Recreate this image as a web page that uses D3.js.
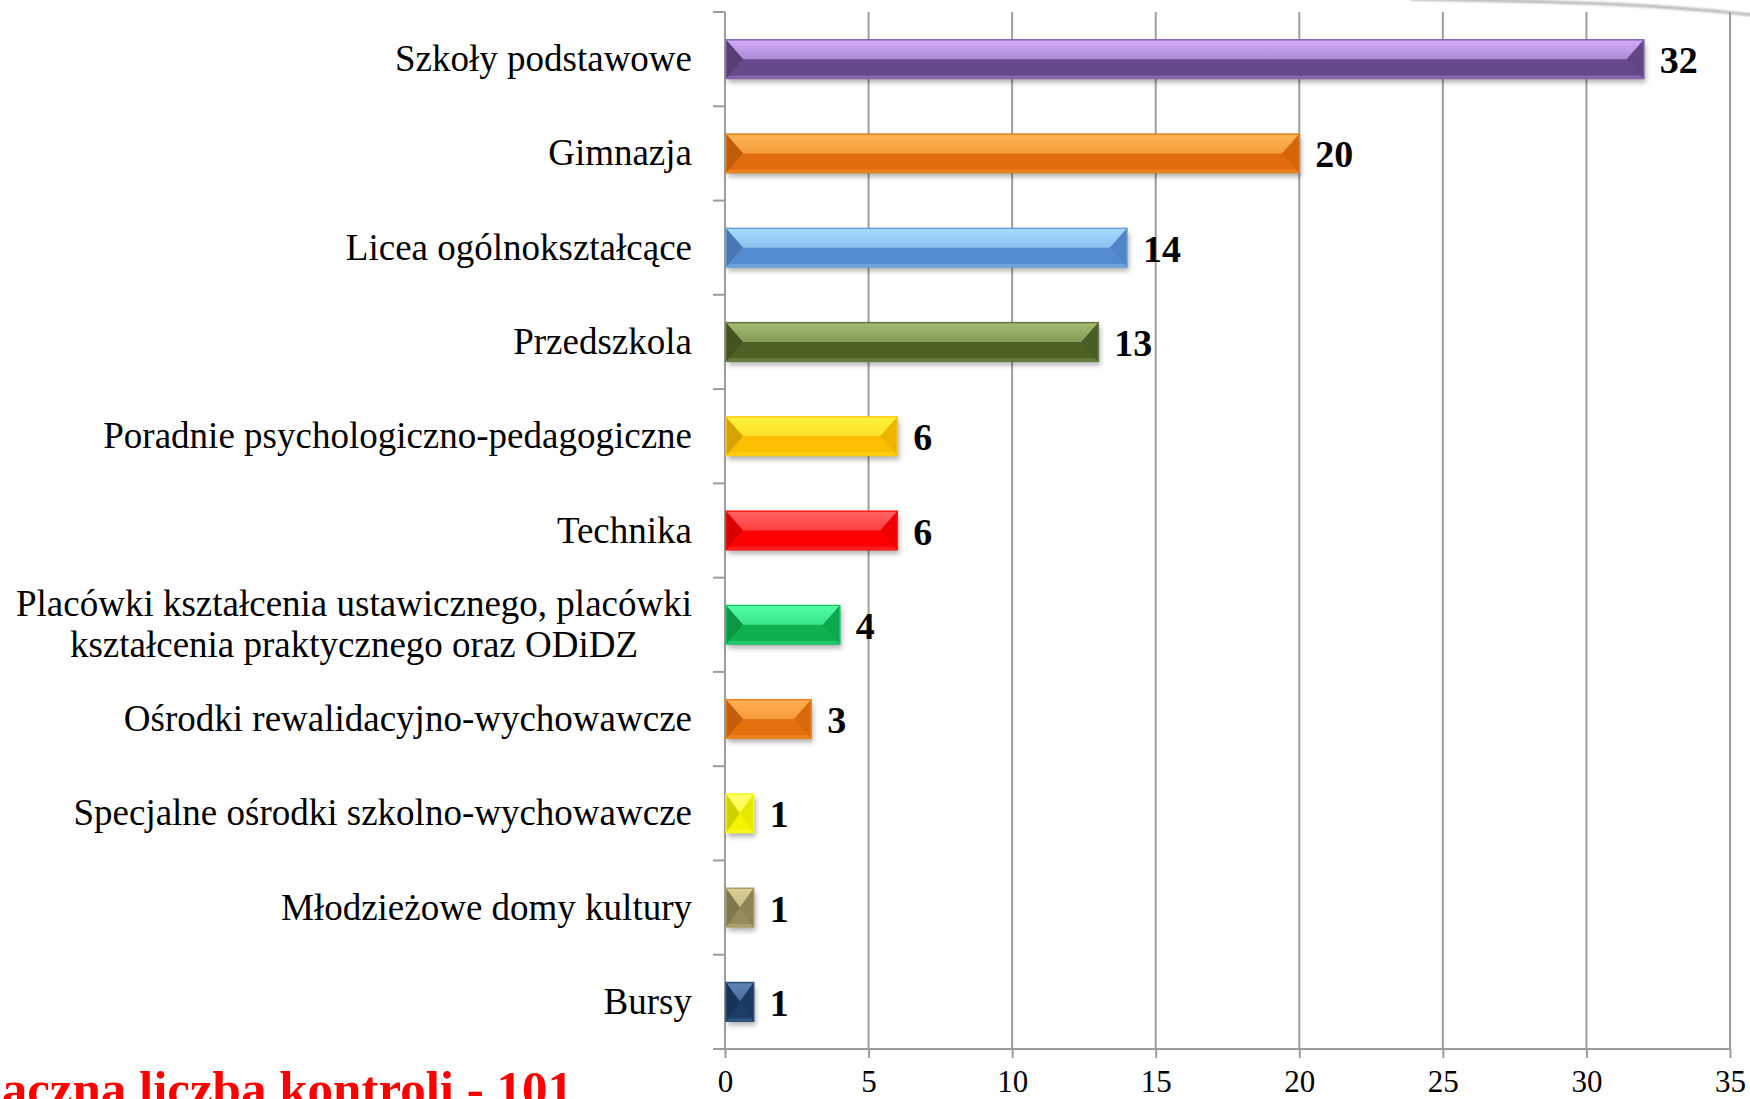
<!DOCTYPE html>
<html>
<head>
<meta charset="utf-8">
<script src="https://cdn.jsdelivr.net/npm/d3@7"></script>
<style>
  html, body { margin: 0; padding: 0; background: #ffffff; overflow: hidden; }
  svg { display: block; }
</style>
</head>
<body>
<svg id="chart" width="1750" height="1099"></svg>
<script>
// ---- data ----
const categories = [
  "Szkoły podstawowe",
  "Gimnazja",
  "Licea ogólnokształcące",
  "Przedszkola",
  "Poradnie psychologiczno-pedagogiczne",
  "Technika",
  "Placówki kształcenia ustawicznego, placówki|kształcenia praktycznego oraz ODiDZ",
  "Ośrodki rewalidacyjno-wychowawcze",
  "Specjalne ośrodki szkolno-wychowawcze",
  "Młodzieżowe domy kultury",
  "Bursy"
];
const values = [32, 20, 14, 13, 6, 6, 4, 3, 1, 1, 1];
const xTickValues = [0, 5, 10, 15, 20, 25, 30, 35];
const totalLabel = "Łączna liczba kontroli - 101";

// ---- colours ----
const lightColors = ["#d2acfa", "#ffb655", "#a8dcff", "#a2bb72", "#fff23c", "#ff6262", "#52ffa6", "#ffb052", "#ffff70", "#dcd296", "#5f86b6"];
const baseColors  = ["#664a8b", "#e06c0b", "#548cd0", "#4f6228", "#fbbe00", "#fe0000", "#0db150", "#e4700d", "#f4f400", "#958c5a", "#1d3c66"];

// ---- layout ----
const svg = d3.select("#chart");
const plot = { left: 725, right: 1730, top: 12, bottom: 1049 };

const x = d3.scaleLinear().domain([0, 35]).range([plot.left, plot.right]);
const y = d3.scaleBand().domain(categories).range([plot.top, plot.bottom])
  .paddingInner(0.59).paddingOuter(0.295);

const defs = svg.append("defs");
const shadow = defs.append("filter").attr("id", "shadow")
  .attr("x", "-10%").attr("y", "-30%").attr("width", "130%").attr("height", "180%");
shadow.append("feDropShadow").attr("dx", 2).attr("dy", 4).attr("stdDeviation", 2.5)
  .attr("flood-color", "#000").attr("flood-opacity", 0.3);
const blur = defs.append("filter").attr("id", "blur");
blur.append("feGaussianBlur").attr("stdDeviation", 1.2);

categories.forEach((c, i) => {
  const g = defs.append("linearGradient").attr("id", "top" + i)
    .attr("x1", 0).attr("y1", 0).attr("x2", 0).attr("y2", 1);
  g.append("stop").attr("offset", "0%").attr("stop-color", lightColors[i]);
  g.append("stop").attr("offset", "100%")
    .attr("stop-color", d3.interpolateRgb(lightColors[i], baseColors[i])(0.35));
});

// top-right slide decoration
svg.append("path")
  .attr("d", "M1410,-1 C1520,1 1640,2 1752,15")
  .attr("fill", "none").attr("stroke", "#b5b5b5").attr("stroke-width", 3)
  .attr("filter", "url(#blur)");

// gridlines
const gridColor = "#9d9d9d";
svg.append("g").selectAll("line").data(xTickValues.filter(d => d > 0)).join("line")
  .attr("x1", d => x(d)).attr("x2", d => x(d))
  .attr("y1", plot.top).attr("y2", plot.bottom)
  .attr("stroke", gridColor).attr("stroke-width", 2);

// x axis
const xAxis = svg.append("g").attr("transform", `translate(0,${plot.bottom})`)
  .call(d3.axisBottom(x).tickValues(xTickValues).tickSize(9).tickPadding(17).tickFormat(d3.format("d")));
xAxis.select(".domain").remove();
xAxis.selectAll(".tick line").attr("stroke", gridColor).attr("stroke-width", 2);
xAxis.selectAll(".tick text")
  .attr("font-family", "'Liberation Serif', 'Times New Roman', serif")
  .attr("font-size", 31).attr("fill", "#000").attr("dy", null).attr("y", 43);
svg.append("line").attr("x1", plot.left - 12).attr("x2", plot.right)
  .attr("y1", plot.bottom).attr("y2", plot.bottom)
  .attr("stroke", gridColor).attr("stroke-width", 2);

// y axis line and ticks at band boundaries
svg.append("line").attr("x1", plot.left).attr("x2", plot.left)
  .attr("y1", plot.top).attr("y2", plot.bottom)
  .attr("stroke", gridColor).attr("stroke-width", 2);
const step = y.step();
const boundaries = d3.range(categories.length + 1).map(i => plot.top + i * step);
svg.append("g").selectAll("line").data(boundaries).join("line")
  .attr("x1", plot.left - 12).attr("x2", plot.left)
  .attr("y1", d => d).attr("y2", d => d)
  .attr("stroke", gridColor).attr("stroke-width", 2);

// category labels
const labelG = svg.append("g")
  .attr("font-family", "'Liberation Serif', 'Times New Roman', serif")
  .attr("font-size", 37).attr("fill", "#000");
categories.forEach((c, i) => {
  const cy = y(c) + y.bandwidth() / 2;
  const lines = c.split("|");
  if (lines.length === 1) {
    labelG.append("text").attr("x", 692).attr("y", cy + 12)
      .attr("text-anchor", "end").text(c);
  } else {
    const t = labelG.append("text").attr("text-anchor", "middle");
    const tmp = labelG.append("text").text(lines[0]);
    const w = tmp.node().getComputedTextLength();
    tmp.remove();
    const cx = 692 - w / 2;
    lines.forEach((ln, k) => {
      t.append("tspan").attr("x", cx).attr("y", cy + 12 + (k - (lines.length - 1) / 2) * 41).text(ln);
    });
  }
});

// bars
const barsG = svg.append("g");
categories.forEach((c, i) => {
  const x0 = x(0) + 1;
  const w = x(values[i]) - x(0) - 1;
  const y0 = y(c);
  const h = y.bandwidth();
  const b = Math.min(17, w / 2);
  const base = baseColors[i];
  const g = barsG.append("g");
  g.append("rect").attr("x", x0).attr("y", y0).attr("width", w).attr("height", h)
    .attr("fill", base).attr("filter", "url(#shadow)");
  g.append("path")
    .attr("d", `M${x0},${y0} L${x0 + w},${y0} L${x0 + w - b},${y0 + h / 2} L${x0 + b},${y0 + h / 2} Z`)
    .attr("fill", `url(#top${i})`);
  g.append("path")
    .attr("d", `M${x0},${y0 + h} L${x0 + w},${y0 + h} L${x0 + w - 3},${y0 + h - 3} L${x0 + 3},${y0 + h - 3} Z`)
    .attr("fill", d3.interpolateRgb(base, lightColors[i])(0.3));
  g.append("path")
    .attr("d", `M${x0},${y0} L${x0 + b},${y0 + h / 2} L${x0},${y0 + h} Z`)
    .attr("fill", d3.color(base).darker(0.45));
  g.append("path")
    .attr("d", `M${x0 + w},${y0} L${x0 + w - b},${y0 + h / 2} L${x0 + w},${y0 + h} Z`)
    .attr("fill", d3.color(base).darker(0.15));
  g.append("rect").attr("x", x0).attr("y", y0).attr("width", w).attr("height", h)
    .attr("fill", "none").attr("stroke", d3.interpolateRgb(base, lightColors[i])(0.25)).attr("stroke-width", 1.5);
});

// value labels
svg.append("g").selectAll("text").data(categories).join("text")
  .attr("x", (c, i) => x(values[i]) + 16)
  .attr("y", c => y(c) + y.bandwidth() / 2 + 14)
  .attr("font-family", "'Liberation Serif', 'Times New Roman', serif")
  .attr("font-weight", "bold").attr("font-size", 38).attr("fill", "#000")
  .text((c, i) => values[i]);

// total label (cropped at the edges, as in the reference)
svg.append("text").attr("x", 573).attr("y", 1106).attr("text-anchor", "end")
  .attr("font-family", "'Liberation Serif', 'Times New Roman', serif")
  .attr("font-weight", "bold").attr("font-size", 51).attr("fill", "#ff0000")
  .text(totalLabel);
</script>
</body>
</html>
